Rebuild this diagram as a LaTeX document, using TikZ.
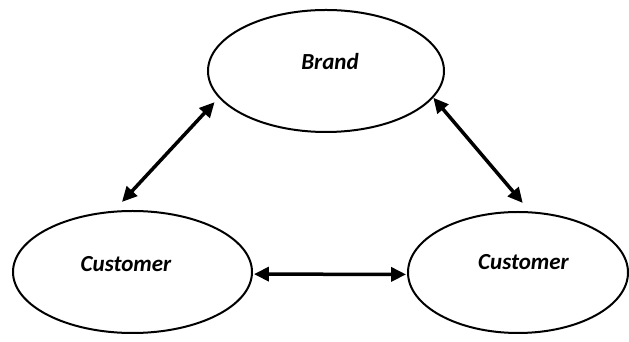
\documentclass[tikz,border=0pt]{standalone}
\usepackage{fontspec}
\setmainfont{Carlito}
\usetikzlibrary{arrows.meta,shapes.geometric}

\begin{document}
\begin{tikzpicture}[x=1pt,y=1pt,
  oval/.style={ellipse,draw,line width=2pt,inner sep=0pt},
  lbl/.style={font=\fontsize{23}{27}\selectfont\bfseries\itshape,inner sep=0pt,anchor=base},
  link/.style={line width=3.5pt,{Triangle[length=15pt,width=14pt]}-{Triangle[length=15pt,width=14pt]}}]
\useasboundingbox (0,0) rectangle (629,342);
\node[oval,minimum width=236pt,minimum height=122pt] (brand) at (326,271) {};
\node[oval,minimum width=239pt,minimum height=122pt] (left) at (132.5,70) {};
\node[oval,minimum width=220pt,minimum height=121pt] (right) at (518,69.5) {};
\node[lbl] (brandtxt) at (330,272) {Brand};
\node[lbl] (lefttxt) at (126,70) {Customer};
\node[lbl] (righttxt) at (523.5,72) {Customer};
\draw[link,shorten <=6pt,shorten >=12pt] (brand.194.4) -- (left.107.1);
\draw[link,shorten >=11pt] (brand.346.5) -- (right.79.5);
\draw[link,shorten <=1pt,shorten >=1pt] (left.-1) -- (right.181);
\end{tikzpicture}
\end{document}
